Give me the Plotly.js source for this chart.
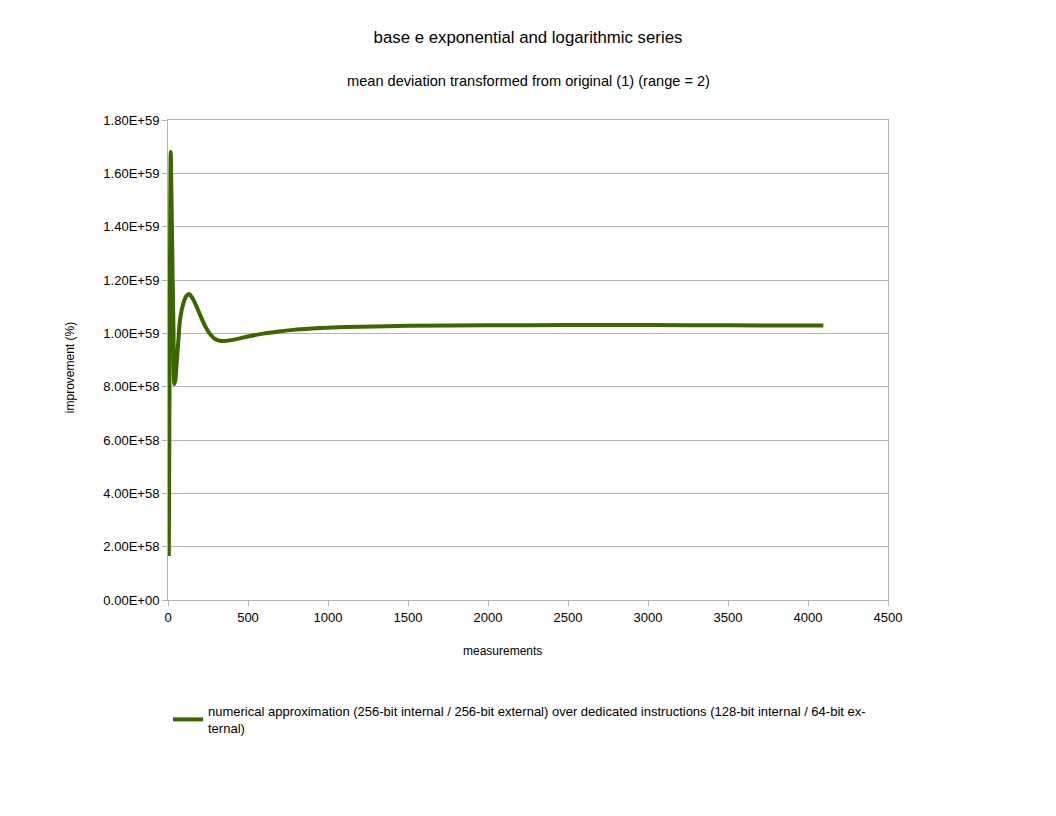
<!DOCTYPE html>
<html>
<head>
<meta charset="utf-8">
<script src="https://cdn.plot.ly/plotly-3.0.1.min.js"></script>
<style>
  body { margin: 0; background: #fff; }
  #chart { width: 1056px; height: 816px; }
</style>
</head>
<body>
<div id="chart"></div>
<script>
var measurements = [5, 8, 12, 17, 22, 28, 34, 40, 47, 54, 65, 75, 96, 115, 131, 150, 175, 200, 230, 262,
  294, 335, 380, 450, 500, 575, 680, 783, 900, 992, 1200, 1500, 2000, 2500, 3000, 3500, 4096];
var improvement = [0.165e59, 0.6e59, 1.2e59, 1.68e59, 1.5e59, 1.25e59, 1.02e59, 0.81e59, 0.83e59, 0.888e59,
  0.975e59, 1.05e59, 1.1125e59, 1.14e59, 1.1475e59, 1.135e59, 1.105e59, 1.07e59, 1.03e59, 0.998e59,
  0.979e59, 0.971e59, 0.973e59, 0.981e59, 0.988e59, 0.997e59, 1.006e59, 1.013e59, 1.018e59, 1.021e59,
  1.025e59, 1.028e59, 1.030e59, 1.031e59, 1.031e59, 1.030e59, 1.029e59];

var yTickVals = [0, 0.2e59, 0.4e59, 0.6e59, 0.8e59, 1.0e59, 1.2e59, 1.4e59, 1.6e59, 1.8e59];
var yTickText = ["0.00E+00", "2.00E+58", "4.00E+58", "6.00E+58", "8.00E+58",
  "1.00E+59", "1.20E+59", "1.40E+59", "1.60E+59", "1.80E+59"];

var seriesName = "numerical approximation (256-bit internal / 256-bit external) over dedicated instructions (128-bit internal / 64-bit ex-<br>ternal)";

var trace = {
  type: "scatter",
  mode: "lines",
  x: measurements,
  y: improvement,
  name: seriesName,
  line: { color: "#3b6600", width: 4, shape: "spline", smoothing: 0.8 }
};

var layout = {
  width: 1056,
  height: 816,
  margin: { l: 168, r: 168, t: 120, b: 216 },
  paper_bgcolor: "#fff",
  plot_bgcolor: "#fff",
  font: { family: "Liberation Sans, Arial, sans-serif", size: 13, color: "#000" },
  title: {
    text: "base e exponential and logarithmic series",
    font: { size: 16.8 },
    x: 0.5, xref: "paper", y: 0.955, yanchor: "middle"
  },
  annotations: [
    {
      // subtitle
      text: "mean deviation transformed from original (1) (range = 2)",
      xref: "paper", yref: "paper", x: 0.5, y: 1, yshift: 39,
      xanchor: "center", yanchor: "middle", showarrow: false,
      font: { size: 14.6 }
    },
    {
      // x axis title, placed like the original
      text: "measurements",
      xref: "paper", yref: "paper", x: 0.464, y: 0, yshift: -51,
      xanchor: "center", yanchor: "middle", showarrow: false,
      font: { size: 12 }
    },
    {
      // y axis title
      text: "improvement (%)",
      xref: "paper", yref: "paper", x: 0, xshift: -98, y: 0.483,
      xanchor: "center", yanchor: "middle", showarrow: false,
      textangle: -90,
      font: { size: 12 }
    }
  ],
  xaxis: {
    range: [0, 4500],
    dtick: 500,
    tick0: 0,
    showgrid: false,
    zeroline: false,
    showline: true,
    linecolor: "#b3b3b3",
    mirror: true,
    ticks: "outside",
    ticklen: 5,
    tickcolor: "#b3b3b3"
  },
  yaxis: {
    range: [0, 1.8e59],
    tickvals: yTickVals,
    ticktext: yTickText,
    showgrid: true,
    gridcolor: "#b3b3b3",
    zeroline: false,
    showline: true,
    linecolor: "#b3b3b3",
    mirror: true,
    ticks: "outside",
    ticklen: 5,
    tickcolor: "#b3b3b3"
  },
  showlegend: true,
  legend: {
    orientation: "h",
    x: 0.0, xanchor: "left",
    y: -0.2, yanchor: "top",
    font: { size: 13 },
    bgcolor: "rgba(0,0,0,0)"
  }
};

Plotly.newPlot("chart", [trace], layout, { displayModeBar: false });
</script>
</body>
</html>
